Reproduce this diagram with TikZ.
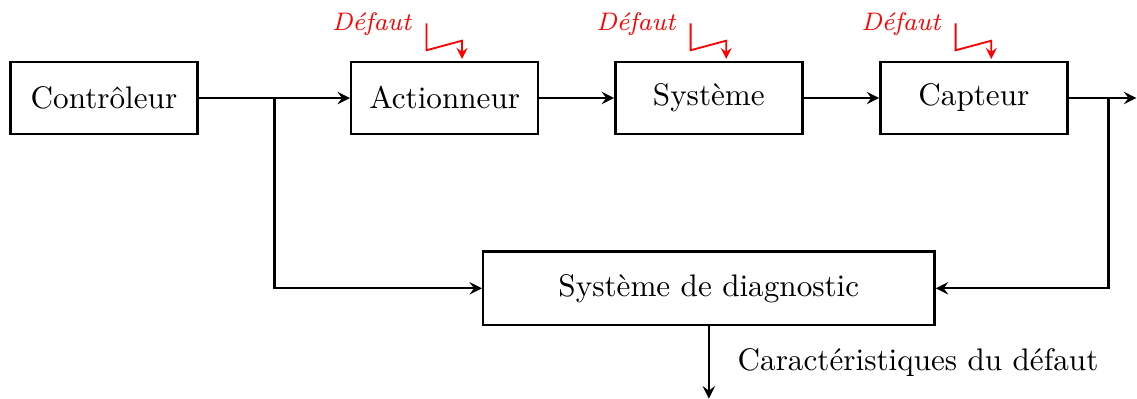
\documentclass[tikz,border=0pt]{standalone}
\usepackage{tikz}
\usetikzlibrary{positioning}
\usetikzlibrary{calc}

\begin{document}
\begin{tikzpicture}[
      >=stealth,
      box/.style={draw,rectangle,thick,minimum width=2.15cm,
                  minimum height=0.83cm,align=center,
                  font=\fontsize{10.2}{12}\selectfont},
      sig/.style={->, thick},
      fault/.style={->, red, semithick},
      faultlabel/.style={font=\fontsize{8.3}{10}\selectfont\itshape,text=red}
    ]
    \useasboundingbox (-1.196,1.127) rectangle (11.88,-3.46);

    % Chain of blocks
    \node[box] (ctrl) {Contrôleur};
    \node[box, right=1.74cm of ctrl] (act) {Actionneur};
    \node[box, right=0.86cm of act] (sys) {Système};
    \node[box, right=0.87cm of sys] (cap) {Capteur};
    \node[box, below=1.32cm of sys, minimum width=5.19cm,
          minimum height=0.85cm] (diag) {Système de diagnostic};

    % Branch points
    \coordinate[right=0.87cm of ctrl.east] (split);
    \coordinate[right=0.46cm of cap.east] (tap);
    \coordinate[right=0.78cm of cap.east] (out);
    \coordinate[below=0.83cm of diag.south] (res);

    % Draw connections
    \draw[sig] (ctrl) -- (act);
    \draw[sig] (act) -- (sys);
    \draw[sig] (sys) -- (cap);
    \draw[sig] (cap) -- (out);
    \draw[sig] (split) |- (diag);
    \draw[sig] (tap) |- (diag);
    \draw[sig] (diag) -- node[midway,right=0.2cm]{\fontsize{10.2}{12}\selectfont Caractéristiques du défaut} (res);

    % Faults
    \foreach \n in {act,sys,cap} {
      \draw[fault] ($(\n.north)+(-0.21,0.43)$) -- ++(0,-0.31)
            -- ++(0.41,0.11) -- ($(\n.north)+(0.2,0.02)$);
      \node[faultlabel] at ($(\n.north)+(-0.84,0.42)$) {Défaut};
    }

  \end{tikzpicture}
\end{document}
